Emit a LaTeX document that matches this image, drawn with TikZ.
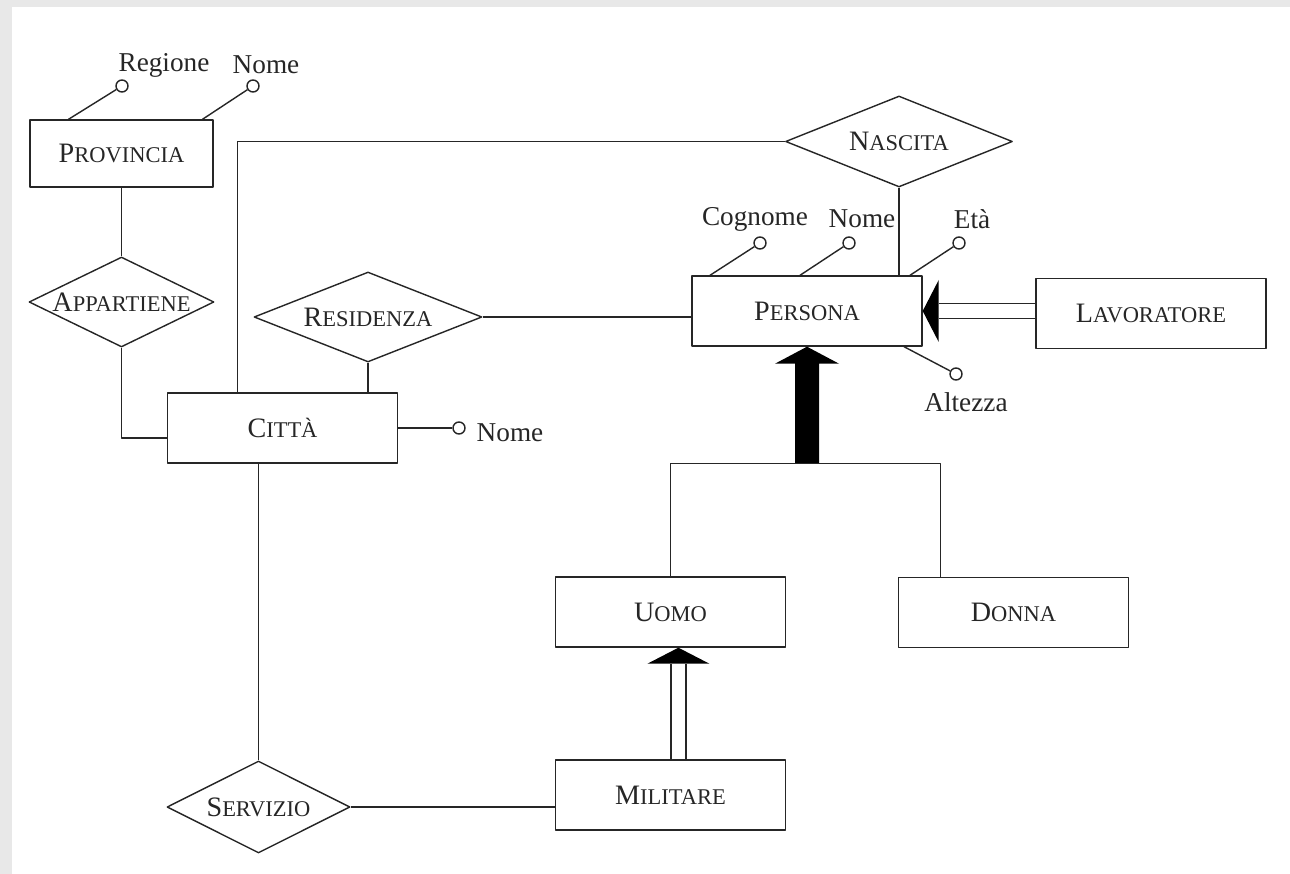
\documentclass[tikz,border=0pt]{standalone}
\usepackage{fontspec}
\setmainfont{Liberation Serif}
\usetikzlibrary{shapes.geometric,calc}
\newcommand{\smc}[2]{#1{\fontsize{12.8}{15}\selectfont #2}}

\begin{document}
\begin{tikzpicture}[x=0.02cm, y=-0.02cm, line join=round, color=black!85, line width=0.8pt,
  font=\fontsize{16}{19}\selectfont,
  ent/.style={draw, minimum width=4.6cm, minimum height=1.4cm, inner sep=0pt},
  rel/.style={draw, diamond, inner sep=0pt},
  attr/.style={draw, circle, fill=white, minimum size=0.24cm, inner sep=0pt},
  lbl/.style={font=\fontsize{15.5}{18}\selectfont, inner sep=0pt},
  isa/.style={double, double distance=7.7pt}]
		\fill[black!9] (0,0) rectangle (1290,874);
		\fill[white] (12,7) rectangle (1290,874);
		\useasboundingbox (0,0) rectangle (1290,874);
		% entities
		\node[ent, minimum width=3.66cm, minimum height=1.34cm] (prov) at (121.5,153.5) {\smc{P}{ROVINCIA}};
		\node[ent] (cit) at (282.5,428) {\smc{C}{ITTÀ}};
		\node[ent] (per) at (807,311) {\smc{P}{ERSONA}};
		\node[ent] (lav) at (1151,313.5) {\smc{L}{AVORATORE}};
		\node[ent] (uomo) at (670.5,612) {\smc{U}{OMO}};
		\node[ent] (donna) at (1013.5,612.5) {\smc{D}{ONNA}};
		\node[ent] (mil) at (670.5,795) {\smc{M}{ILITARE}};
		% relationships
		\node[rel, minimum width=3.7cm, minimum height=1.8cm] (app) at (121.5,302) {\makebox[0pt]{\smc{A}{PPARTIENE}}};
		\node[rel, minimum width=4.56cm, minimum height=1.8cm] (res) at (368,317) {\makebox[0pt]{\smc{R}{ESIDENZA}}};
		\node[rel, minimum width=4.54cm, minimum height=1.82cm] (nas) at (899,141.5) {\makebox[0pt]{\smc{N}{ASCITA}}};
		\node[rel, minimum width=3.66cm, minimum height=1.84cm] (ser) at (258.5,807) {\makebox[0pt]{\smc{S}{ERVIZIO}}};
		\draw (prov) -- (app);
		\draw (app.south) |- ([yshift=-5.7pt]cit.west);
		\draw ([xshift=-25.5pt]cit.north) |- (nas.west);
		\draw (nas.south) -- (nas.south |- per.north);
		\draw (res.south) -- (res.south |- cit.north);
		\draw (res.east) -- (res.east -| per.west);
		\draw (cit.south -| ser.north) -- (ser.north);
		\draw (ser.east) -- (ser.east -| mil.west);
		% attributes
		\node[attr] (regp) at (122,86) {};
		\node[lbl] (lregp) at (164,65) {Regione};
		\draw ($(prov.north)+(-53,0)$) -- (regp);
		\node[attr] (nomp) at (253,86) {};
		\node[lbl] (lnomp) at (266,65) {Nome};
		\draw ($(prov.north)+(81,0)$) -- (nomp);
		\node[attr] (nomc) at (459,428) {};
		\node[lbl] (lnomc) at (510,433) {Nome};
		\draw (cit.east) -- (nomc);
		\node[attr] (cogn) at (760,243) {};
		\node[lbl] (lcogn) at (755,219) {Cognome};
		\draw ($(per.north)+(-97,0)$) -- (cogn);
		\node[attr] (nomr) at (849,243) {};
		\node[lbl] (lnomr) at (862,219) {Nome};
		\draw ($(per.north)+(-7,0)$) -- (nomr);
		\node[attr] (eta) at (959,243) {};
		\node[lbl] (leta) at (972,219) {Età};
		\draw ($(per.north)+(103,0)$) -- (eta);
		\node[attr] (alt) at (956,374) {};
		\node[lbl] (lalt) at (966,402) {Altezza};
		\draw ($(per.south)+(97,0)$) -- (alt);
		% generalizations
		\coordinate (gen) at ($(per.south)+(0,117)$);
		\fill[black] (per.south) -- ++(32,17) -- ++(-20,0) -- ++(0,100) -- ++(-24,0) -- ++(0,-100) -- ++(-20,0) -- cycle;
		\draw (uomo.north) |- (gen) -| ([xshift=-41.7pt]donna.north);
		\fill[black] (per.east) -- ++(16,-31) -- ++(0,62) -- cycle;
		\draw[isa] (lav.west |- per.east) -- ([xshift=9pt]per.east);
		\fill[black] ([xshift=4.5pt]uomo.south) -- ++(-31,16) -- ++(62,0) -- cycle;
		\draw[isa] ([xshift=4.5pt]mil.north) -- ([xshift=4.5pt,yshift=-9pt]uomo.south);
\end{tikzpicture}
\end{document}
